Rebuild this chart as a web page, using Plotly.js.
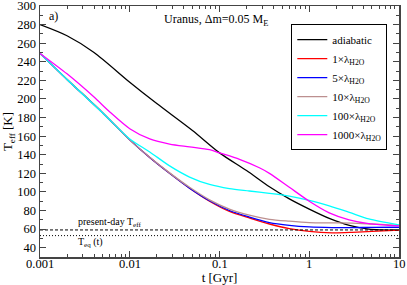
<!DOCTYPE html>
<html>
<head>
<meta charset="utf-8">
<script src="https://cdn.plot.ly/plotly-3.0.1.min.js"></script>
<style>html,body{margin:0;padding:0;background:#fff;}#chart{width:407px;height:285px;}</style>
</head>
<body>
<div id="chart"></div>
<script>
// ---- data ----
const seriesNames = ["adiabatic", "1×λ<sub>H2O</sub>", "5×λ<sub>H2O</sub>", "10×λ<sub>H2O</sub>", "100×λ<sub>H2O</sub>", "1000×λ<sub>H2O</sub>"];

const tAdiabatic = [0.001, 0.002, 0.004, 0.01, 0.02, 0.05, 0.1, 0.2, 0.36, 0.6, 1, 1.67, 2.8, 4.6, 10];
const TAdiabatic = [280, 268, 250, 218, 195, 166, 142, 123, 105.5, 92.5, 81.5, 71.5, 64, 60, 59];

const tGroup = [0.001, 0.002, 0.005, 0.01, 0.0167, 0.0278, 0.0464, 0.0774, 0.129, 0.215, 0.36, 0.6, 1, 1.8, 3, 5, 10];
const T1x    = [249, 221, 185, 156, 137, 120, 104, 90, 79, 72, 65.5, 60.5, 57.5, 56, 56.5, 57.5, 59];
const T5x    = [249, 221, 185, 156, 137, 120, 104, 90.5, 80, 73, 67, 64, 62.3, 61.7, 61.7, 61.8, 62];
const T10x   = [249, 221, 185, 156, 137.3, 120.5, 105, 91.5, 81.5, 75, 70.5, 68.5, 67, 66.7, 66.5, 65.5, 64];

const t100x = [0.001, 0.002, 0.005, 0.01, 0.0167, 0.0278, 0.0464, 0.0774, 0.129, 0.215, 0.36, 0.6, 1, 1.67, 2.8, 4.6, 10];
const T100x = [249, 221, 185, 157, 143, 128, 116, 108, 103.5, 101, 98.5, 95.5, 91, 85, 78, 71, 64.5];

const t1000x = [0.001, 0.002, 0.004, 0.006, 0.01, 0.0167, 0.0278, 0.0464, 0.0774, 0.1, 0.167, 0.278, 0.36, 0.6, 1, 1.67, 2.78, 4.6, 10];
const T1000x = [249, 227, 202, 186, 168, 157, 151.5, 148.5, 145.5, 142, 135, 126, 120, 105, 90, 77.5, 70, 66, 63.5];

const tRefLine = [0.001, 10];
const presentDayTeff = [59.1, 59.1];
const TeqLine = [53, 53];

const xTickVals = [0.001, 0.01, 0.1, 1, 10];
const xTickText = ["0.001", "0.01", "0.1", "1", "10"];

const colors = ["#000000", "#ff0000", "#0000ff", "#bc8f8f", "#00ffff", "#ff00ff"];
const serif = "'Liberation Serif', 'Times New Roman', serif";

function line(x, y, name, color) {
  return {x: x, y: y, name: name, type: "scatter", mode: "lines",
          line: {color: color, width: 1.3, shape: "spline", smoothing: 0.8}};
}

const traces = [
  line(tAdiabatic, TAdiabatic, seriesNames[0], colors[0]),
  line(tGroup, T1x, seriesNames[1], colors[1]),
  line(tGroup, T5x, seriesNames[2], colors[2]),
  line(tGroup, T10x, seriesNames[3], colors[3]),
  line(t100x, T100x, seriesNames[4], colors[4]),
  line(t1000x, T1000x, seriesNames[5], colors[5]),
  {x: tRefLine, y: presentDayTeff, type: "scatter", mode: "lines", showlegend: false,
   line: {color: "#000", width: 1, dash: "3px,2px"}},
  {x: tRefLine, y: TeqLine, type: "scatter", mode: "lines", showlegend: false,
   line: {color: "#000", width: 1, dash: "1px,2px"}}
];

const tickAnnotations = xTickVals.map((v, i) => ({
  xref: "x", yref: "paper", x: Math.log10(v), y: 0, yanchor: "top", xanchor: "center",
  yshift: 2, text: xTickText[i], showarrow: false, font: {family: serif, size: 12.5}
}));

const frame = "#444";
const layout = {
  width: 407, height: 285,
  margin: {l: 40, r: 8, t: 6, b: 28},
  paper_bgcolor: "#fff", plot_bgcolor: "#fff",
  font: {family: serif, size: 12, color: "#000"},
  showlegend: true,
  legend: {x: 0.70, y: 0.928, xanchor: "left", yanchor: "top",
           bgcolor: "#fff", bordercolor: "#000", borderwidth: 1,
           font: {family: serif, size: 11}, itemwidth: 30, tracegroupgap: 0},
  xaxis: {type: "log", range: [-3, 1], dtick: 1,
          showline: true, linecolor: frame, linewidth: 1.5, mirror: "allticks",
          ticks: "inside", ticklen: 6, tickcolor: frame, tickwidth: 1,
          showgrid: false, zeroline: false, automargin: false,
          showticklabels: false,
          minor: {ticks: "inside", ticklen: 3, tickcolor: frame, dtick: "D1", showgrid: false},
          title: {text: "t [Gyr]", font: {family: serif, size: 13}, standoff: 21}},
  yaxis: {range: [30, 300], tick0: 0, dtick: 20,
          showline: true, linecolor: frame, linewidth: 1.5, mirror: "allticks",
          ticks: "inside", ticklen: 6, tickcolor: frame, tickwidth: 1,
          showgrid: false, zeroline: false, automargin: false,
          ticklabeloverflow: "allow",
          tickfont: {family: serif, size: 12.5},
          minor: {ticks: "inside", ticklen: 3, tickcolor: frame, tick0: 0, dtick: 10, showgrid: false},
          title: {text: "T<sub>eff</sub> [K]", font: {family: serif, size: 13}, standoff: 4}},
  annotations: tickAnnotations.concat([
    {xref: "paper", yref: "paper", x: 0.02, y: 0.96, xanchor: "left", yanchor: "middle",
     text: "a)", showarrow: false, font: {family: serif, size: 12}},
    {xref: "paper", yref: "paper", x: 0.49, y: 0.944, xanchor: "center", yanchor: "middle",
     text: "Uranus, Δm=0.05 M<sub>E</sub>", showarrow: false, font: {family: serif, size: 12}},
    {xref: "paper", yref: "paper", x: 0.1, y: 0.139, xanchor: "left", yanchor: "middle",
     text: "present-day T<sub>eff</sub>", showarrow: false, font: {family: serif, size: 10}},
    {xref: "paper", yref: "paper", x: 0.1, y: 0.057, xanchor: "left", yanchor: "middle",
     text: "T<sub>eq</sub> (t)", showarrow: false, font: {family: serif, size: 10}}
  ])
};

Plotly.newPlot("chart", traces, layout, {displayModeBar: false, staticPlot: true});
</script>
</body>
</html>
